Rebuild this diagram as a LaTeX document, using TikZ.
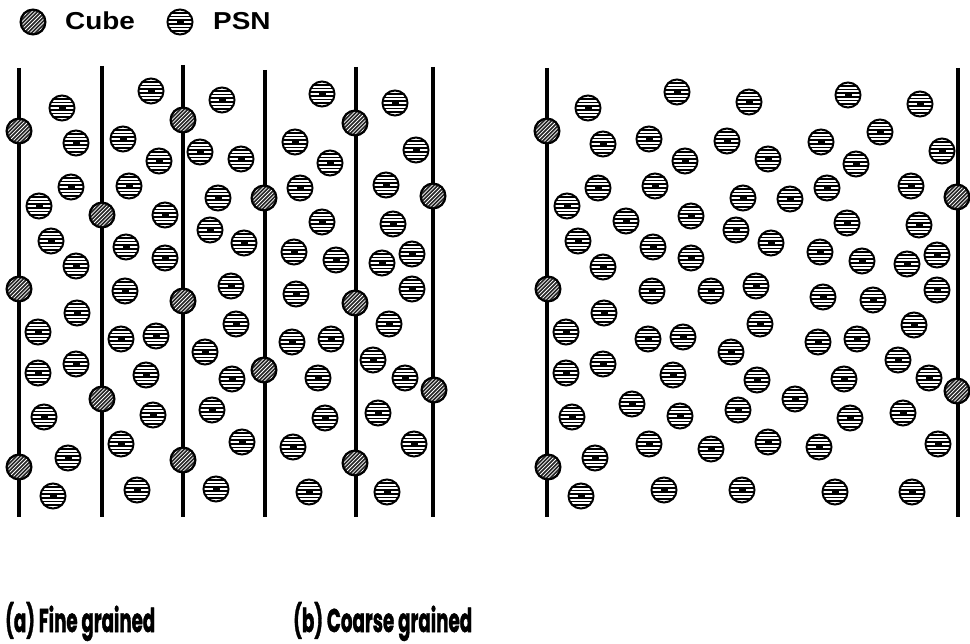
\documentclass[tikz,border=0pt]{standalone}
\usepackage{fontspec}
\usepackage{graphicx}
\setmainfont{Liberation Sans}
\newfontfamily\capfont{Poppins}[BoldFeatures={FakeBold=1.6}]
\begin{document}
\begin{tikzpicture}[x=1pt,y=-1pt,
  grain/.style={line width=3.8pt},
  psn/.style={circle, draw, line width=2pt, minimum size=25pt, inner sep=0pt, fill=white,
    path picture={
      \foreach \k in {-4,...,3}{\fill[black] ([xshift=-16pt,yshift=\k*3.6pt+0.95pt]path picture bounding box.center) rectangle ++(32pt,1.7pt);}
      \fill[white] ([xshift=-6pt,yshift=-0.9pt]path picture bounding box.center) rectangle ++(12pt,1.8pt);
      \fill[black] ([xshift=-3.5pt,yshift=-1.8pt]path picture bounding box.center) rectangle ++(7pt,3.6pt);
    }},
  cube/.style={circle, draw, line width=2pt, minimum size=25pt, inner sep=0pt, fill=black!85,
    path picture={
      \clip (path picture bounding box.center) circle (11pt);
      \foreach \k in {-8,...,8}{\draw[white, line width=0.75pt] ([xshift=\k*3.8pt-15pt,yshift=-15pt]path picture bounding box.center) -- ++(30pt,30pt);}
    }},
  lab/.style={font=\fontsize{24.5}{24.5}\selectfont\bfseries, anchor=base west, inner sep=0pt}
]
\useasboundingbox (0,0) rectangle (970,644);

% legend
\node[cube] (legcube) at (33,22) {};
\node[lab] (legcubet) at (65,30) {\scalebox{1.14}[1]{Cube}};
\node[psn] (legpsn) at (180,22) {};
\node[lab] (legpsnt) at (213,30) {\scalebox{1.14}[1]{PSN}};

% grain boundaries (a)
\foreach \x/\t [count=\i] in {19/68,102/66,183/65,265/70,356/67,433/67}{
  \coordinate (at\i) at (\x,\t);
  \coordinate (ab\i) at (\x,517);
  \draw[grain] (at\i) -- (ab\i);
}
% grain boundaries (b)
\foreach \x/\t [count=\i] in {547/68,958/68}{
  \coordinate (bt\i) at (\x,\t);
  \coordinate (bb\i) at (\x,517);
  \draw[grain] (bt\i) -- (bb\i);
}

% PSN (a)
\foreach \x/\y [count=\i] in {
 62/108, 76/143, 71/187, 39/206, 51/241, 76/266, 77/313, 38/332, 38/373, 76/364, 44/417, 68/458, 53/496,
 151/91, 123/139, 159/161, 129/186, 165/215, 126/247, 165/258, 125/291, 121/339, 156/336, 146/375, 153/415, 121/444, 137/490,
 222/100, 200/152, 241/159, 218/198, 210/230, 244/243, 231/286, 236/324, 205/352, 232/379, 212/410, 242/442, 216/489,
 322/94, 295/142, 330/163, 300/188, 322/222, 294/252, 336/260, 296/294, 292/342, 331/339, 318/378, 325/418, 293/447, 309/492,
 395/103, 416/150, 386/185, 393/224, 382/263, 412/254, 412/289, 389/324, 373/360, 405/378, 378/413, 414/444, 387/492}
 \node[psn] (pa\i) at (\x,\y) {};

% Cubes (a)
\foreach \x/\y [count=\i] in {19/131, 19/289, 19/467, 102/215, 102/399, 183/120, 183/301, 183/460,
 264/198, 264/370, 355/123, 355/303, 355/463, 433/196, 434/390}
 \node[cube] (ca\i) at (\x,\y) {};

% PSN (b)
\foreach \x/\y [count=\i] in {
 588/108, 603/144, 649/139, 677/92, 685/161, 727/141, 749/102, 598/188, 655/186, 567/206,
 626/221, 691/216, 743/198, 736/230, 578/241, 653/247, 691/258, 603/267, 848/95, 920/104,
 880/132, 821/142, 942/151, 768/159, 856/164, 827/188, 911/186, 790/199, 771/243, 847/223,
 919/225, 820/252, 862/261, 907/264, 937/255, 756/286, 937/290, 604/313, 566/332, 566/373,
 603/364, 572/417, 595/458, 581/496, 652/291, 711/291, 648/339, 683/337, 731/352, 760/324,
 673/375, 632/404, 680/416, 738/410, 649/444, 711/449, 664/490, 742/490, 823/297, 873/300,
 818/342, 857/339, 914/325, 898/360, 757/380, 844/379, 929/378, 795/399, 850/418, 903/413,
 768/442, 819/447, 938/444, 835/492, 912/492}
 \node[psn] (pb\i) at (\x,\y) {};

% Cubes (b)
\foreach \x/\y [count=\i] in {547/131, 548/289, 548/467, 957/197, 957/391}
 \node[cube] (cb\i) at (\x,\y) {};

% captions
\node[anchor=base west, inner sep=0pt] (capa) at (5,632) {\resizebox{150pt}{30pt}{\capfont\bfseries (a) Fine grained}};
\node[anchor=base west, inner sep=0pt] (capb) at (293,632) {\resizebox{179pt}{30pt}{\capfont\bfseries (b) Coarse grained}};
\end{tikzpicture}
\end{document}
